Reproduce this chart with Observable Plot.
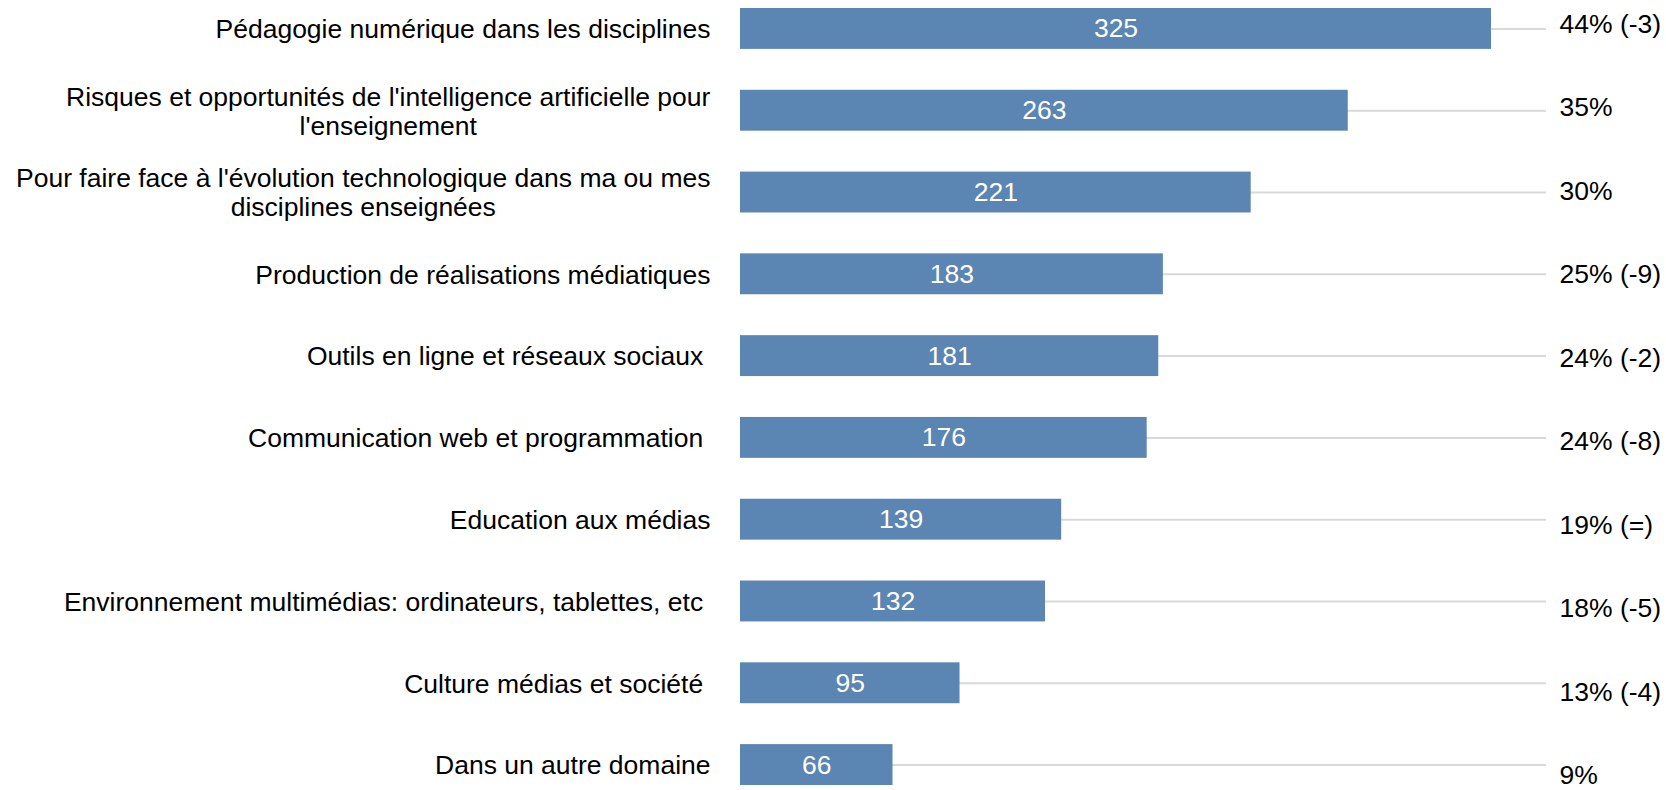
<!DOCTYPE html>
<html>
<head>
<meta charset="utf-8">
<script src="https://cdn.jsdelivr.net/npm/d3@7"></script>
<script src="https://cdn.jsdelivr.net/npm/@observablehq/plot@0.6"></script>
<style>
  html, body { margin: 0; padding: 0; background: #ffffff; }
  #wrap { position: relative; width: 1666px; height: 790px; }
  #wrap svg { position: absolute; top: 0; left: 0; }
  .leftlab text { white-space: pre; }
</style>
</head>
<body>
<div id="wrap"></div>
<script>
const categories = [
  "Pédagogie numérique dans les disciplines",
  "Risques et opportunités de l'intelligence artificielle pour\nl'enseignement",
  "Pour faire face à l'évolution technologique dans ma ou mes\ndisciplines enseignées",
  "Production de réalisations médiatiques",
  "Outils en ligne et réseaux sociaux ",
  "Communication web et programmation ",
  "Education aux médias",
  "Environnement multimédias: ordinateurs, tablettes, etc ",
  "Culture médias et société ",
  "Dans un autre domaine"
];
const counts = [325, 263, 221, 183, 181, 176, 139, 132, 95, 66];
const shares = ["44% (-3)", "35%", "30%", "25% (-9)", "24% (-2)", "24% (-8)", "19% (=)", "18% (-5)", "13% (-4)", "9%"];

const data = categories.map((c, i) => ({cat: c, value: counts[i], share: shares[i]}));

const FONT = "'Liberation Sans', Arial, Helvetica, sans-serif";
const FS = 26.5;
const wrap = document.getElementById("wrap");

const main = Plot.plot({
  width: 1666,
  height: 790,
  marginLeft: 740,
  marginRight: 120,
  marginTop: 0,
  marginBottom: 0,
  style: {fontFamily: FONT, fontSize: FS + "px", background: "transparent", color: "#000", overflow: "visible"},
  x: {domain: [0, d3.max(counts)], range: [740, 1491], axis: null},
  y: {domain: categories, range: [8, 785], paddingInner: 0.5, paddingOuter: 0, round: false, axis: null},
  marks: [
    Plot.ruleY(data, {y: "cat", stroke: "#d9d9d9", strokeWidth: 2}),
    Plot.barX(data, {x: "value", y: "cat", fill: "#5b85b2"}),
    Plot.text(data, {x: d => d.value / 2, y: "cat", text: d => String(d.value), fill: "#ffffff", fontSize: FS}),
    Plot.text(data, {x: 0, y: "cat", text: "cat", textAnchor: "middle", dx: -30, lineHeight: 1.1, fill: "#000", fontSize: FS, className: "leftlab"})
  ]
});
wrap.appendChild(main);

const right = Plot.plot({
  width: 1666,
  height: 790,
  marginLeft: 1559,
  marginRight: 0,
  marginTop: 0,
  marginBottom: 0,
  style: {fontFamily: FONT, fontSize: FS + "px", background: "transparent", color: "#000", overflow: "visible"},
  y: {type: "point", domain: categories, range: [24, 775], padding: 0, round: false, axis: null},
  marks: [
    Plot.text(data, {y: "cat", text: "share", frameAnchor: "left", textAnchor: "start", fill: "#000", fontSize: FS})
  ]
});
wrap.appendChild(right);

// right-align each label block while centring its lines
main.querySelectorAll(".leftlab text").forEach(t => {
  const w = t.getBBox().width;
  const tr = t.getAttribute("transform") || "";
  t.setAttribute("transform", tr + ` translate(${-w / 2},0)`);
});
</script>
</body>
</html>
